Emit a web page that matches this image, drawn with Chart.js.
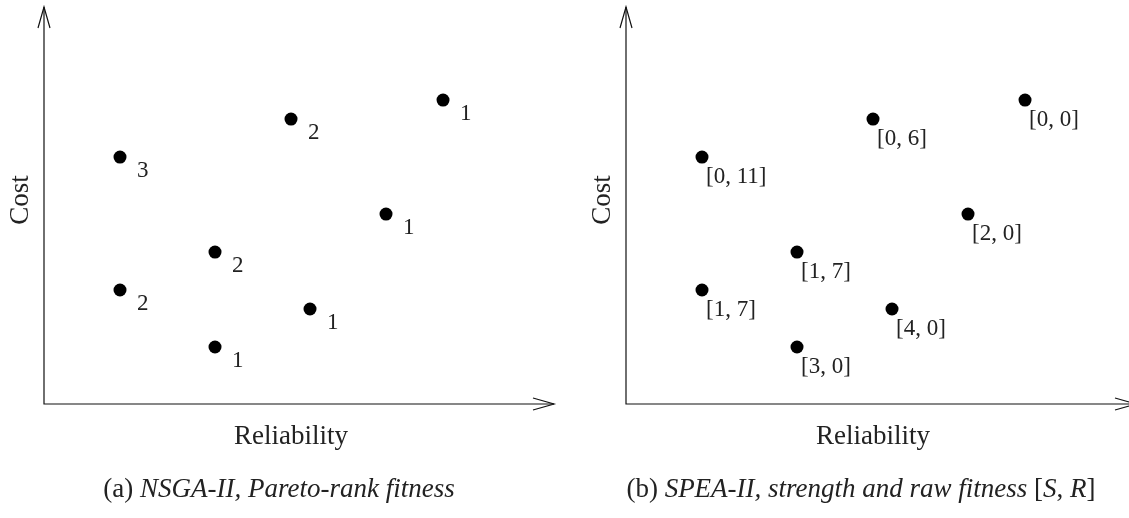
<!DOCTYPE html>
<html>
<head>
<meta charset="utf-8">
<script src="https://cdn.jsdelivr.net/npm/chart.js@4/dist/chart.umd.min.js"></script>
<style>
  html, body { margin: 0; padding: 0; background: #fff; overflow: hidden; }
  body { width: 1129px; height: 518px; position: relative; }
  .panel { position: absolute; top: 0; }
  .caption {
    position: absolute; top: 473px; white-space: nowrap;
    font-family: "Liberation Serif", serif; font-size: 27px; color: #222;
    transform: translateX(-50%);
  }
  .caption i { font-style: italic; }
</style>
</head>
<body>
<div class="panel" style="left:0px"><canvas id="nsga" width="565" height="518"></canvas></div>
<div class="panel" style="left:582px"><canvas id="spea" width="565" height="518"></canvas></div>
<div class="caption" style="left:279px">(a) <i>NSGA-II, Pareto-rank fitness</i></div>
<div class="caption" style="left:861px">(b) <i>SPEA-II, strength and raw fitness</i> [<i>S</i>, <i>R</i>]</div>

<script>
// the eight candidate solutions, in axis units
var reliability = [4, 9, 4, 9, 13, 14, 18, 21];
var cost = [13, 8, 6, 3, 15, 5, 10, 16];
var paretoRank = ['3', '2', '2', '1', '2', '1', '1', '1'];
var strengthRaw = ['[0, 11]', '[1, 7]', '[1, 7]', '[3, 0]', '[0, 6]', '[4, 0]', '[2, 0]', '[0, 0]'];

var X_MAX = 26.84, Y_MAX = 20.9;

// axes with open arrow heads, titles and the text next to each point
var sketchPlugin = {
  id: 'sketch',
  beforeDatasetsDraw: function (chart) {
    var ctx = chart.ctx, a = chart.chartArea;
    ctx.save();
    ctx.strokeStyle = '#111';
    ctx.lineWidth = 1.2;
    ctx.beginPath();
    ctx.moveTo(a.left, a.top);
    ctx.lineTo(a.left, a.bottom);
    ctx.lineTo(a.right, a.bottom);
    ctx.stroke();
    // arrow heads
    ctx.beginPath();
    ctx.moveTo(a.left - 6, a.top + 21);
    ctx.lineTo(a.left, a.top);
    ctx.lineTo(a.left + 6, a.top + 21);
    ctx.moveTo(a.right - 21, a.bottom - 6);
    ctx.lineTo(a.right, a.bottom);
    ctx.lineTo(a.right - 21, a.bottom + 6);
    ctx.stroke();

    ctx.fillStyle = '#222';
    ctx.font = '27px "Liberation Serif"';
    ctx.textAlign = 'center';
    ctx.textBaseline = 'middle';
    ctx.fillText('Reliability', a.left + 247, a.bottom + 33);
    ctx.translate(a.left - 23, 200);
    ctx.rotate(-Math.PI / 2);
    ctx.fillText('Cost', 0, 0);
    ctx.restore();
  },
  afterDatasetsDraw: function (chart) {
    var ctx = chart.ctx, opts = chart.options.plugins.sketch;
    var xs = chart.scales.x, ys = chart.scales.y;
    ctx.save();
    ctx.fillStyle = '#222';
    ctx.font = '23px "Liberation Serif"';
    ctx.textBaseline = 'middle';
    ctx.textAlign = 'left';
    chart.data.datasets[0].data.forEach(function (p, i) {
      var px = xs.getPixelForValue(p.x), py = ys.getPixelForValue(p.y);
      ctx.fillText(opts.labels[i], px + opts.dx, py + opts.dy);
    });
    ctx.restore();
  }
};

function makeChart(id, labels, dx, dy) {
  var pts = reliability.map(function (r, i) { return { x: r, y: cost[i] }; });
  return new Chart(document.getElementById(id), {
    type: 'scatter',
    data: {
      datasets: [{
        data: pts,
        pointRadius: 6.5,
        pointBackgroundColor: '#000',
        pointBorderWidth: 0
      }]
    },
    options: {
      responsive: false,
      animation: false,
      layout: { padding: { left: 44, right: 11, top: 7, bottom: 114 } },
      scales: {
        x: { type: 'linear', min: 0, max: X_MAX, display: false },
        y: { type: 'linear', min: 0, max: Y_MAX, display: false }
      },
      plugins: {
        legend: { display: false },
        tooltip: { enabled: false },
        sketch: { labels: labels, dx: dx, dy: dy }
      }
    },
    plugins: [sketchPlugin]
  });
}

makeChart('nsga', paretoRank, 17, 14);
makeChart('spea', strengthRaw, 4, 20);
</script>
</body>
</html>
